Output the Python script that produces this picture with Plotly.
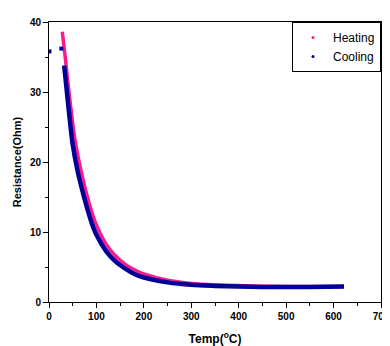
import plotly.graph_objects as go

# Heating run
heat_temp = [28, 35, 42, 55, 70, 86, 100, 120, 140, 160, 180, 200, 250, 300, 350, 375, 450, 550, 620]
heat_res = [38.6, 34.5, 30.1, 23.1, 18.0, 13.8, 11.0, 8.3, 6.6, 5.4, 4.6, 4.0, 3.1, 2.65, 2.45, 2.4, 2.25, 2.2, 2.2]

# Cooling run
cool_temp = [32, 40, 50, 60, 70, 80, 90, 100, 120, 140, 160, 180, 200, 250, 300, 350, 400, 450, 500, 550, 622]
cool_res = [33.8, 28.5, 22.5, 18.8, 16.0, 13.5, 11.3, 9.6, 7.3, 5.8, 4.8, 4.0, 3.5, 2.8, 2.45, 2.3, 2.2, 2.15, 2.15, 2.15, 2.2]

# Stray cooling points near the start
cool_out_temp = [1, 26]
cool_out_res = [35.8, 36.2]

x_ticks = [0, 100, 200, 300, 400, 500, 600, 700]
y_ticks = [0, 10, 20, 30, 40]

PINK = "#FF1A8C"
BLUE = "#000099"
FONT = "Arial, Liberation Sans, sans-serif"

fig = go.Figure()
fig.add_trace(go.Scatter(x=heat_temp, y=heat_res, mode="lines", line=dict(color=PINK, width=3.5, shape="spline", smoothing=0.8),
                         showlegend=False, hoverinfo="skip"))
fig.add_trace(go.Scatter(x=cool_temp, y=cool_res, mode="lines", line=dict(color=BLUE, width=4.5, shape="spline", smoothing=0.8),
                         showlegend=False, hoverinfo="skip"))
fig.add_trace(go.Scatter(x=cool_out_temp, y=cool_out_res, mode="markers", marker=dict(color=BLUE, size=4, symbol="square"),
                         showlegend=False, hoverinfo="skip"))
# legend entries
fig.add_trace(go.Scatter(x=[None], y=[None], mode="markers", name="Heating", marker=dict(color=PINK, size=3)))
fig.add_trace(go.Scatter(x=[None], y=[None], mode="markers", name="Cooling", marker=dict(color=BLUE, size=3)))

# the page places the figure 8px from the top-left corner of the window
fig.update_layout(
    width=382, height=338,
    margin=dict(l=41, r=9, t=14, b=44, autoexpand=False),
    paper_bgcolor="white", plot_bgcolor="white",
    font=dict(family=FONT, color="black", size=11),
    legend=dict(x=1, xanchor="right", y=1, yanchor="top", bgcolor="white",
                bordercolor="black", borderwidth=1, font=dict(size=12, family=FONT),
                itemwidth=30, tracegroupgap=0),
    xaxis=dict(range=[0, 700], tickvals=x_ticks, ticktext=[f"<b>{v}</b>" for v in x_ticks],
               showgrid=False, zeroline=False, showline=True, linecolor="black", linewidth=1, mirror=True,
               ticks="outside", ticklen=5, tickcolor="black", tickfont=dict(size=10), automargin=False,
               minor=dict(dtick=50, ticks="outside", ticklen=3, tickcolor="black"),
               title=dict(text="<b>Temp(<sup>o</sup>C)</b>", font=dict(size=12), standoff=14)),
    yaxis=dict(range=[0, 40], tickvals=y_ticks, ticktext=[f"<b>{v}</b>" for v in y_ticks],
               showgrid=False, zeroline=False, showline=True, linecolor="black", linewidth=1, mirror=True,
               ticks="outside", ticklen=5, tickcolor="black", tickfont=dict(size=10), automargin=False,
               minor=dict(dtick=5, ticks="outside", ticklen=3, tickcolor="black"),
               title=dict(text="<b>Resistance(Ohm)</b>", font=dict(size=11), standoff=6)),
)

fig.write_html("out.html")
